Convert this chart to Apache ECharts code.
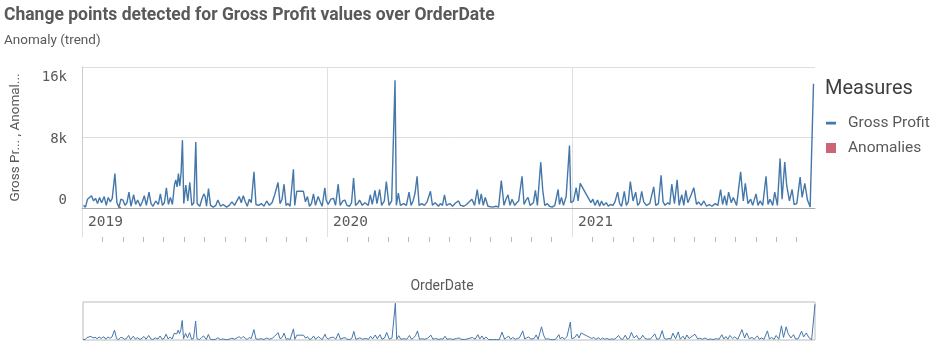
<!DOCTYPE html>
<html><head><meta charset="utf-8">
<script src="https://cdn.jsdelivr.net/npm/echarts@6/dist/echarts.min.js"></script>
<style>html,body{margin:0;padding:0;background:#fff}#c{width:943px;height:353px}</style>
</head><body><div id="c"></div>
<script>
const chartTitle = 'Change points detected for Gross Profit values over OrderDate';
const chartSubtitle = 'Anomaly (trend)';
const yAxisTitle = 'Gross Pr... , Anomal...';
const xAxisTitle = 'OrderDate';
const legendTitle = 'Measures';
const seriesNames = ['Gross Profit', 'Anomalies'];
const yTickValues = [0, 8000, 16000];
const yTickLabels = ['0', '8k', '16k'];
const yearTickLabels = ['2019', '2020', '2021'];

const grossProfit2019 = [
  ['2019-01-01',300],['2019-01-04',100],['2019-01-07',1000],['2019-01-10',1200],['2019-01-13',1400],['2019-01-16',800],['2019-01-19',1100],['2019-01-22',500],['2019-01-25',1200],['2019-01-28',600],
  ['2019-02-01',1300],['2019-02-04',300],['2019-02-07',1200],['2019-02-10',700],['2019-02-13',1100],['2019-02-17',3900],['2019-02-20',600],['2019-02-23',100],['2019-02-26',1000],
  ['2019-03-01',900],['2019-03-04',300],['2019-03-07',600],['2019-03-10',1800],['2019-03-13',200],['2019-03-17',1500],['2019-03-20',400],['2019-03-23',900],['2019-03-27',200],['2019-03-30',700],
  ['2019-04-02',1400],['2019-04-05',300],['2019-04-09',1800],['2019-04-12',500],['2019-04-15',200],['2019-04-19',800],['2019-04-23',400],['2019-04-26',1600],['2019-04-29',300],
  ['2019-05-02',600],['2019-05-05',2300],['2019-05-08',400],['2019-05-11',1200],['2019-05-14',400],['2019-05-17',2600],['2019-05-19',3200],['2019-05-21',2400],['2019-05-23',3900],['2019-05-25',2500],['2019-05-27',4000],['2019-05-29',7700],['2019-05-31',500],
  ['2019-06-03',2600],['2019-06-06',800],['2019-06-09',2900],['2019-06-12',300],['2019-06-15',600],['2019-06-18',7500],['2019-06-20',500],['2019-06-24',200],['2019-06-27',1000],['2019-06-30',1600],
  ['2019-07-02',1300],['2019-07-04',200],['2019-07-07',2200],['2019-07-10',300],['2019-07-14',100],['2019-07-18',300],['2019-07-21',900],['2019-07-25',200],['2019-07-29',400],
  ['2019-08-03',100],['2019-08-07',300],['2019-08-11',700],['2019-08-15',300],['2019-08-19',900],['2019-08-22',1300],['2019-08-25',600],['2019-08-28',1400],['2019-08-31',700],
  ['2019-09-03',200],['2019-09-06',1000],['2019-09-09',600],['2019-09-13',4100],['2019-09-16',400],['2019-09-20',300],['2019-09-24',500],['2019-09-28',200],
  ['2019-10-02',800],['2019-10-06',300],['2019-10-10',600],['2019-10-14',1500],['2019-10-19',2900],['2019-10-22',500],['2019-10-25',1000],['2019-10-28',2700],['2019-10-31',300],
  ['2019-11-03',500],['2019-11-06',200],['2019-11-11',4400],['2019-11-13',300],['2019-11-16',1900],['2019-11-26',1900],['2019-11-29',700],
  ['2019-12-02',1300],['2019-12-05',200],['2019-12-08',500],['2019-12-11',1600],['2019-12-14',300],['2019-12-18',1300],['2019-12-21',700],['2019-12-24',200],['2019-12-28',2300],['2019-12-30',900]
];
const grossProfit2020 = [
  ['2020-01-02',400],['2020-01-06',1000],['2020-01-10',1100],['2020-01-13',300],['2020-01-17',2700],['2020-01-20',300],['2020-01-24',800],['2020-01-27',900],['2020-01-30',300],
  ['2020-02-03',200],['2020-02-06',600],['2020-02-09',3400],['2020-02-12',300],['2020-02-15',500],['2020-02-18',900],['2020-02-22',300],['2020-02-26',600],
  ['2020-03-02',300],['2020-03-05',1500],['2020-03-08',400],['2020-03-12',2000],['2020-03-15',500],['2020-03-19',2100],['2020-03-22',300],['2020-03-26',800],['2020-03-29',3000],
  ['2020-04-02',300],['2020-04-06',800],['2020-04-11',14500],['2020-04-13',300],['2020-04-16',1700],['2020-04-19',300],['2020-04-24',500],['2020-04-28',300],
  ['2020-05-02',1800],['2020-05-05',300],['2020-05-08',800],['2020-05-11',1700],['2020-05-14',3600],['2020-05-17',300],['2020-05-21',500],['2020-05-25',300],['2020-05-29',700],
  ['2020-06-03',1900],['2020-06-06',300],['2020-06-10',600],['2020-06-15',200],['2020-06-18',500],['2020-06-21',300],['2020-06-24',1500],['2020-06-27',300],
  ['2020-07-02',500],['2020-07-06',200],['2020-07-11',600],['2020-07-15',800],['2020-07-18',300],['2020-07-23',200],['2020-07-27',400],
  ['2020-08-04',1000],['2020-08-08',300],['2020-08-12',2100],['2020-08-15',400],['2020-08-18',1600],['2020-08-21',300],['2020-08-24',1200],['2020-08-28',200],
  ['2020-09-04',100],['2020-09-09',200],['2020-09-13',100],['2020-09-17',3100],['2020-09-21',300],['2020-09-24',1000],['2020-09-27',1500],['2020-09-30',300],
  ['2020-10-03',1000],['2020-10-07',300],['2020-10-10',600],['2020-10-13',800],['2020-10-18',3600],['2020-10-21',400],['2020-10-24',900],['2020-10-27',1200],['2020-10-30',300],
  ['2020-11-04',600],['2020-11-07',2000],['2020-11-10',300],['2020-11-15',5200],['2020-11-18',2000],['2020-11-21',300],['2020-11-25',500],['2020-11-28',200],
  ['2020-12-02',100],['2020-12-06',300],['2020-12-11',2100],['2020-12-13',400],['2020-12-16',1200],['2020-12-19',300],['2020-12-23',1300],['2020-12-28',7100],['2020-12-30',600]
];
const grossProfit2021 = [
  ['2021-01-03',800],['2021-01-07',2300],['2021-01-10',800],['2021-01-13',2800],['2021-01-29',600],
  ['2021-02-01',1000],['2021-02-04',300],['2021-02-08',900],['2021-02-11',200],['2021-02-14',800],['2021-02-17',300],['2021-02-21',600],['2021-02-24',200],['2021-02-27',400],
  ['2021-03-03',300],['2021-03-06',700],['2021-03-10',1800],['2021-03-13',500],['2021-03-16',200],['2021-03-20',1900],['2021-03-23',300],['2021-03-26',700],['2021-03-29',3000],
  ['2021-04-02',800],['2021-04-06',1800],['2021-04-09',300],['2021-04-12',600],['2021-04-15',1900],['2021-04-18',700],['2021-04-22',300],['2021-04-27',500],
  ['2021-05-03',2400],['2021-05-06',300],['2021-05-10',500],['2021-05-14',3700],['2021-05-17',700],['2021-05-20',300],['2021-05-24',600],['2021-05-27',400],['2021-05-30',2700],
  ['2021-06-03',500],['2021-06-07',3200],['2021-06-10',300],['2021-06-14',1500],['2021-06-17',300],['2021-06-20',2000],['2021-06-23',600],['2021-06-28',1500],
  ['2021-07-02',2300],['2021-07-06',400],['2021-07-09',700],['2021-07-13',300],['2021-07-17',800],['2021-07-21',200],['2021-07-25',400],['2021-07-29',200],
  ['2021-08-03',500],['2021-08-07',300],['2021-08-11',2100],['2021-08-14',400],['2021-08-17',1400],['2021-08-20',300],['2021-08-23',1800],['2021-08-27',600],['2021-08-30',1200],
  ['2021-09-04',300],['2021-09-10',4100],['2021-09-14',800],['2021-09-17',2800],['2021-09-21',500],['2021-09-25',1000],['2021-09-28',300],
  ['2021-10-03',1600],['2021-10-06',300],['2021-10-09',800],['2021-10-13',300],['2021-10-18',3600],['2021-10-21',400],['2021-10-24',1000],['2021-10-28',300],['2021-10-31',1800],
  ['2021-11-04',300],['2021-11-08',5600],['2021-11-11',1000],['2021-11-15',5200],['2021-11-18',2500],['2021-11-22',800],['2021-11-26',2100],['2021-11-29',400],
  ['2021-12-03',500],['2021-12-08',3500],['2021-12-11',1200],['2021-12-15',2800],['2021-12-19',900],['2021-12-23',100],['2021-12-28',14100]
];
const anomalies = [['2019-02-24',150]];

const grossProfit = grossProfit2019.concat(grossProfit2020, grossProfit2021);
const firstDate = grossProfit[0][0];
const lastDate = grossProfit[grossProfit.length - 1][0];
function localDate(s) { const p = s.split('-'); return new Date(+p[0], +p[1] - 1, +p[2]); }
const spanDays = Math.round((localDate(lastDate) - localDate(firstDate)) / 86400000);

const FONT = 'Roboto, "Noto Sans", sans-serif';
const MONO = '"DejaVu Sans Mono", monospace';
const GRAY = '#595959';
const BLUE = '#4477aa';
const PINK = '#cc6677';
const LINE_ICON = 'path://M0,0L0.01,0L0,0.01Z M0,3.8L10,3.8L10,6.4L0,6.4Z M10,10L9.99,10L10,9.99Z';

const chart = echarts.init(document.getElementById('c'), null, {renderer: 'canvas'});
chart.setOption({
  animation: false,
  backgroundColor: '#fff',
  title: [
    {text: chartTitle, left: 4, top: 7, padding: 0, textStyle: {fontFamily: FONT, fontSize: 17.5, fontWeight: 'bold', color: GRAY}},
    {text: chartSubtitle, left: 4, top: 34, padding: 0, textStyle: {fontFamily: FONT, fontSize: 13.5, fontWeight: 'normal', color: GRAY}},
    {text: legendTitle, left: 825, top: 79, padding: 0, textStyle: {fontFamily: FONT, fontSize: 20, fontWeight: 'normal', color: '#404040'}},
    {text: xAxisTitle, left: 442, top: 279, padding: 0, textAlign: 'center', textStyle: {fontFamily: FONT, fontSize: 14, fontWeight: 'normal', color: GRAY}}
  ],
  legend: {
    orient: 'vertical', left: 826, top: 115, padding: 0,
    itemWidth: 10, itemHeight: 10, itemGap: 9,
    textStyle: {fontFamily: FONT, fontSize: 15.5, color: GRAY, padding: [0, 0, 0, 7]},
    data: [{name: seriesNames[0], icon: LINE_ICON, itemStyle: {color: BLUE}}, {name: seriesNames[1], icon: 'rect'}]
  },
  grid: [
    {left: 82, right: 128, top: 67, height: 141},
    {left: 82, right: 128, top: 208, height: 29},
    {left: 83, right: 128, top: 302, height: 38, show: true, borderColor: '#bbb', borderWidth: 1}
  ],
  xAxis: [
    {type: 'time', gridIndex: 0, min: firstDate, max: lastDate, position: 'bottom',
      axisLine: {show: true, lineStyle: {color: '#aaa'}}, axisTick: {show: false}, axisLabel: {show: false}, splitLine: {show: false}},
    {type: 'value', gridIndex: 0, min: 0, max: spanDays, interval: 365, position: 'top',
      axisLine: {show: false}, axisTick: {show: false}, axisLabel: {show: false},
      splitLine: {show: true, showMaxLine: false, lineStyle: {color: '#e0e0e0'}}},
    {type: 'value', gridIndex: 1, min: 0, max: spanDays, interval: 365, position: 'top',
      axisLine: {show: false}, axisTick: {show: false, inside: true},
      minorTick: {show: true, splitNumber: 12, length: 5, lineStyle: {color: '#bbb'}},
      axisLabel: {inside: true, margin: 7, align: 'left', padding: [0, 0, 0, 6], fontFamily: MONO, fontSize: 14.5, color: GRAY,
        formatter: function (v) { return v % 365 === 0 && yearTickLabels[v / 365] ? yearTickLabels[v / 365] : ''; }},
      splitLine: {show: true, showMaxLine: false, lineStyle: {color: '#e0e0e0'}}},
    {type: 'time', gridIndex: 2, min: firstDate, max: lastDate, show: false}
  ],
  yAxis: [
    {type: 'value', gridIndex: 0, min: 0, max: 16000, interval: 8000,
      name: yAxisTitle, nameLocation: 'middle', nameGap: 59, nameRotate: 90,
      nameTextStyle: {fontFamily: FONT, fontSize: 13.5, color: GRAY},
      axisLine: {show: true, lineStyle: {color: '#ccc'}}, axisTick: {show: false},
      splitLine: {show: true, lineStyle: {color: '#ddd'}},
      axisLabel: {margin: 15, fontFamily: MONO, fontSize: 14, color: GRAY,
        formatter: function (v) {
          const i = yTickValues.indexOf(v);
          const t = yTickLabels[i];
          if (i === 0) return '{b|' + t + '}';
          if (i === yTickValues.length - 1) return '{t|' + t + '}';
          return '{m|' + t + '}';
        },
        rich: {
          t: {fontFamily: MONO, fontSize: 14, color: GRAY, padding: [21, 0, 0, 0]},
          m: {fontFamily: MONO, fontSize: 14, color: GRAY, padding: [4, 0, 0, 0]},
          b: {fontFamily: MONO, fontSize: 14, color: GRAY, padding: [0, 0, 15, 0]}
        }}},
    {type: 'value', gridIndex: 1, show: false},
    {type: 'value', gridIndex: 2, min: 0, max: 15000, show: false}
  ],
  series: [
    {name: seriesNames[0], type: 'line', xAxisIndex: 0, yAxisIndex: 0, data: grossProfit,
      symbol: 'none', showSymbol: false, lineStyle: {color: BLUE, width: 1.4}, itemStyle: {color: BLUE}},
    {name: seriesNames[1], type: 'bar', xAxisIndex: 0, yAxisIndex: 0, data: anomalies, barWidth: 3, itemStyle: {color: PINK}},
    {name: 'mini', type: 'line', xAxisIndex: 3, yAxisIndex: 2, data: grossProfit,
      symbol: 'none', showSymbol: false, lineStyle: {color: BLUE, width: 1}, itemStyle: {color: BLUE}}
  ]
});
</script>
</body></html>
